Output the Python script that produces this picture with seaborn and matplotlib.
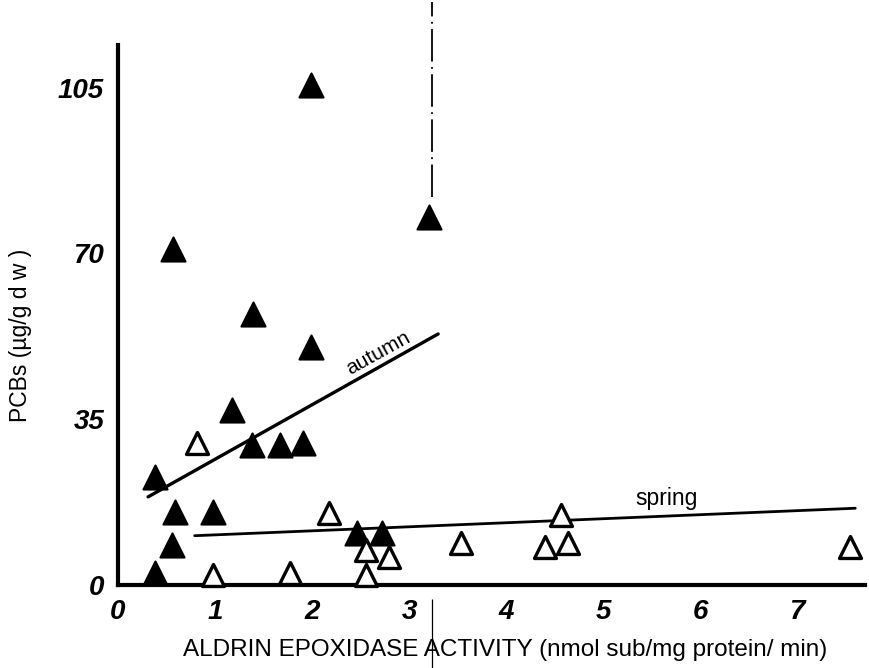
import matplotlib
matplotlib.use("Agg")
import matplotlib.pyplot as plt
import seaborn as sns
import pandas as pd
import numpy as np

# ---- data ----
autumn_x = [1.99, 0.57, 1.39, 1.99, 3.21, 1.18, 1.38, 1.67, 1.91, 0.38, 0.59, 0.98, 0.56, 0.38, 2.46, 2.72]
autumn_y = [105.5, 71.0, 57.3, 50.3, 77.7, 36.9, 29.5, 29.5, 29.9, 22.8, 15.5, 15.5, 8.4, 2.5, 10.9, 10.9]

spring_x = [0.81, 2.17, 2.56, 2.79, 3.54, 0.98, 1.77, 2.56, 4.40, 4.57, 4.64, 7.55]
spring_y = [29.9, 15.1, 7.4, 6.0, 8.8, 2.1, 2.5, 2.1, 8.1, 14.8, 8.8, 8.1]

autumn_line_x = [0.31, 3.30]
autumn_line_y = [18.6, 53.0]
spring_line_x = [0.79, 7.60]
spring_line_y = [10.4, 16.2]

x_ticks = [0, 1, 2, 3, 4, 5, 6, 7]
y_ticks = [0, 35, 70, 105]

marker_line_x = 3.24

x_label = "ALDRIN EPOXIDASE ACTIVITY (nmol sub/mg protein/ min)"
y_label = "PCBs (\u00b5g/g d w )"

# ---- figure ----
sns.set_style("white")
plt.rcParams['font.family'] = ['Liberation Sans', 'DejaVu Sans']
plt.rcParams['text.color'] = 'black'
plt.rcParams['axes.labelcolor'] = 'black'
plt.rcParams['xtick.color'] = 'black'
plt.rcParams['ytick.color'] = 'black'

fig = plt.figure(figsize=(8.69, 6.68), dpi=100)
ax = fig.add_axes([0.1358, 0.1243, 0.8596, 0.8083])

df_a = pd.DataFrame({"x": autumn_x, "y": autumn_y})
df_s = pd.DataFrame({"x": spring_x, "y": spring_y})

sns.scatterplot(data=df_a, x="x", y="y", marker="^", s=300, color="black",
                edgecolor="black", linewidth=1.5, ax=ax, zorder=4, clip_on=False)
sns.scatterplot(data=df_s, x="x", y="y", marker="^", s=250, facecolor="white",
                edgecolor="black", linewidth=2.4, ax=ax, zorder=4, clip_on=False)

sns.lineplot(x=autumn_line_x, y=autumn_line_y, color="black", lw=2.4, ax=ax, zorder=3)
sns.lineplot(x=spring_line_x, y=spring_line_y, color="black", lw=2.0, ax=ax, zorder=3)

ax.text(2.68, 49.0, "autumn", rotation=29, fontsize=15, ha="center", va="center", color="black")
ax.text(5.65, 18.3, "spring", fontsize=16.5, ha="center", va="center", color="black")

# dash-dot vertical guide (scan artefact in original)
ax.vlines(marker_line_x, 82, 123, colors="black", lw=1.3,
          linestyles=(0, (18, 3, 1, 3)), clip_on=False)
ax.vlines(marker_line_x, -3, -18, colors="black", lw=0.9, clip_on=False)

ax.set_xlim(0, 7.7)
ax.set_ylim(0, 114)
ax.set_xticks(x_ticks)
ax.set_yticks(y_ticks)
ax.set_xticklabels([str(v) for v in x_ticks], fontsize=20, fontweight="bold", fontstyle="italic", color="black")
ax.set_yticklabels([str(v) for v in y_ticks], fontsize=20, fontweight="bold", fontstyle="italic", color="black")
ax.tick_params(axis="both", direction="out", length=6, width=2.2, color="black", pad=4)

for side in ["top", "right"]:
    ax.spines[side].set_visible(False)
for side in ["left", "bottom"]:
    ax.spines[side].set_linewidth(3)
    ax.spines[side].set_color("black")

ax.set_xlabel(x_label, fontsize=17.5, color="black")
ax.xaxis.set_label_coords(0.518, -0.12)
ax.xaxis.label.set_va("center")
ax.set_ylabel(y_label, fontsize=16.5, color="black")
ax.yaxis.set_label_coords(-0.131, 0.463)
ax.yaxis.label.set_va("center")

fig.savefig("out.png", dpi=100)
